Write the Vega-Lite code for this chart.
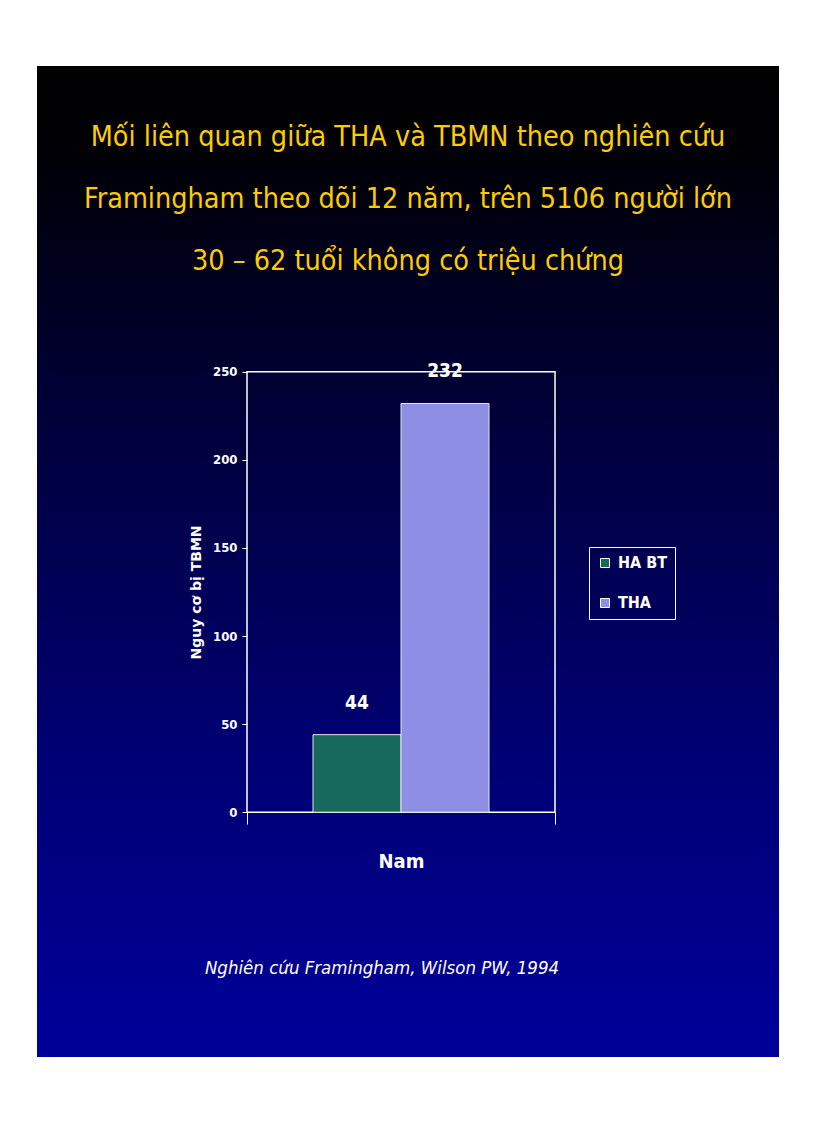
{
  "$schema": "https://vega.github.io/schema/vega-lite/v6.json",
  "width": 742,
  "height": 991,
  "autosize": {"type": "none"},
  "padding": {"left": 37, "top": 66, "right": 37, "bottom": 66},
  "background": "white",
  "title": {
    "text": [
      "Mối liên quan giữa THA và TBMN theo nghiên cứu",
      "Framingham theo dõi 12 năm, trên 5106 người lớn",
      "30 – 62 tuổi không có triệu chứng"
    ],
    "orient": "top",
    "frame": "group",
    "anchor": "middle",
    "offset": -232,
    "baseline": "alphabetic",
    "lineHeight": 62,
    "font": "DejaVu Sans Condensed, sans-serif",
    "fontSize": 28.5,
    "fontWeight": "normal",
    "color": "#FFCC00"
  },
  "data": {
    "values": [
      {"category": "Nam", "series": "HA BT", "value": 44},
      {"category": "Nam", "series": "THA", "value": 232}
    ]
  },
  "layer": [
    {
      "data": {"values": [{"category": "Nam"}]},
      "mark": {"type": "rect", "filled": false, "stroke": "white", "strokeWidth": 1.5},
      "encoding": {
        "x": {"field": "category", "type": "nominal"},
        "y": {"datum": 250, "type": "quantitative"},
        "y2": {"datum": 0}
      }
    },
    {
      "mark": {"type": "bar", "stroke": "#e6e6e6", "strokeWidth": 1},
      "encoding": {
        "x": {
          "field": "category",
          "type": "nominal",
          "scale": {"paddingInner": 0, "paddingOuter": 0.7045, "align": 0.4839},
          "axis": {
            "title": null,
            "offset": -245,
            "domain": false,
            "tickBand": "extent",
            "tickColor": "white",
            "tickSize": 12,
            "labelAngle": 0,
            "labelAlign": "center",
            "labelFlush": false,
            "labelColor": "white",
            "labelFont": "DejaVu Sans Condensed, sans-serif",
            "labelFontSize": 20,
            "labelFontWeight": "bold",
            "labelPadding": 37
          }
        },
        "xOffset": {
          "field": "series",
          "type": "nominal",
          "scale": {"paddingInner": 0, "paddingOuter": 0.75}
        },
        "y": {
          "field": "value",
          "type": "quantitative",
          "scale": {"domain": [-139, 423.6], "nice": false, "zero": false},
          "axis": {
            "title": "Nguy cơ bị TBMN",
            "values": [0, 50, 100, 150, 200, 250],
            "offset": -210,
            "domain": false,
            "grid": false,
            "tickColor": "white",
            "tickSize": 5,
            "labelColor": "white",
            "labelFont": "DejaVu Sans Condensed, sans-serif",
            "labelFontSize": 13,
            "labelFontWeight": "bold",
            "labelPadding": 5,
            "titleColor": "white",
            "titleFont": "DejaVu Sans",
            "titleFontSize": 14,
            "titleFontWeight": "bold",
            "titleAngle": -90,
            "titleAlign": "center",
            "titleBaseline": "middle",
            "titleX": -51,
            "titleY": 526
          }
        },
        "color": {
          "field": "series",
          "type": "nominal",
          "scale": {"domain": ["HA BT", "THA"], "range": ["#17695c", "#8e8ee4"]},
          "legend": {
            "title": null,
            "orient": "none",
            "legendX": 552,
            "legendY": 481,
            "symbolType": "square",
            "symbolSize": 81,
            "symbolStrokeColor": "white",
            "symbolStrokeWidth": 1,
            "labelColor": "white",
            "labelFont": "DejaVu Sans Condensed, sans-serif",
            "labelFontSize": 16,
            "labelFontWeight": "bold",
            "labelOffset": 5,
            "rowPadding": 24,
            "padding": 8,
            "strokeColor": "white"
          }
        }
      }
    },
    {
      "mark": {
        "type": "text",
        "dy": -32,
        "baseline": "middle",
        "color": "white",
        "font": "DejaVu Sans Condensed, sans-serif",
        "fontSize": 19,
        "fontWeight": "bold"
      },
      "encoding": {
        "x": {"field": "category", "type": "nominal"},
        "xOffset": {"field": "series", "type": "nominal"},
        "y": {"field": "value", "type": "quantitative"},
        "text": {"field": "value", "type": "quantitative"}
      }
    },
    {
      "data": {"values": [{"category": "Nam", "note": "Nghiên cứu Framingham, Wilson PW, 1994"}]},
      "mark": {
        "type": "text",
        "dx": -19,
        "baseline": "alphabetic",
        "color": "white",
        "font": "DejaVu Sans Condensed, sans-serif",
        "fontSize": 18.5,
        "fontStyle": "italic"
      },
      "encoding": {
        "x": {"field": "category", "type": "nominal"},
        "y": {"datum": -92, "type": "quantitative"},
        "text": {"field": "note", "type": "nominal"}
      }
    }
  ],
  "config": {
    "view": {
      "stroke": null,
      "fill": {
        "gradient": "linear",
        "x1": 0, "y1": 0, "x2": 0, "y2": 1,
        "stops": [
          {"offset": 0, "color": "#000000"},
          {"offset": 0.08, "color": "#000004"},
          {"offset": 0.4, "color": "#000042"},
          {"offset": 0.7, "color": "#000074"},
          {"offset": 1, "color": "#00009a"}
        ]
      }
    }
  }
}
